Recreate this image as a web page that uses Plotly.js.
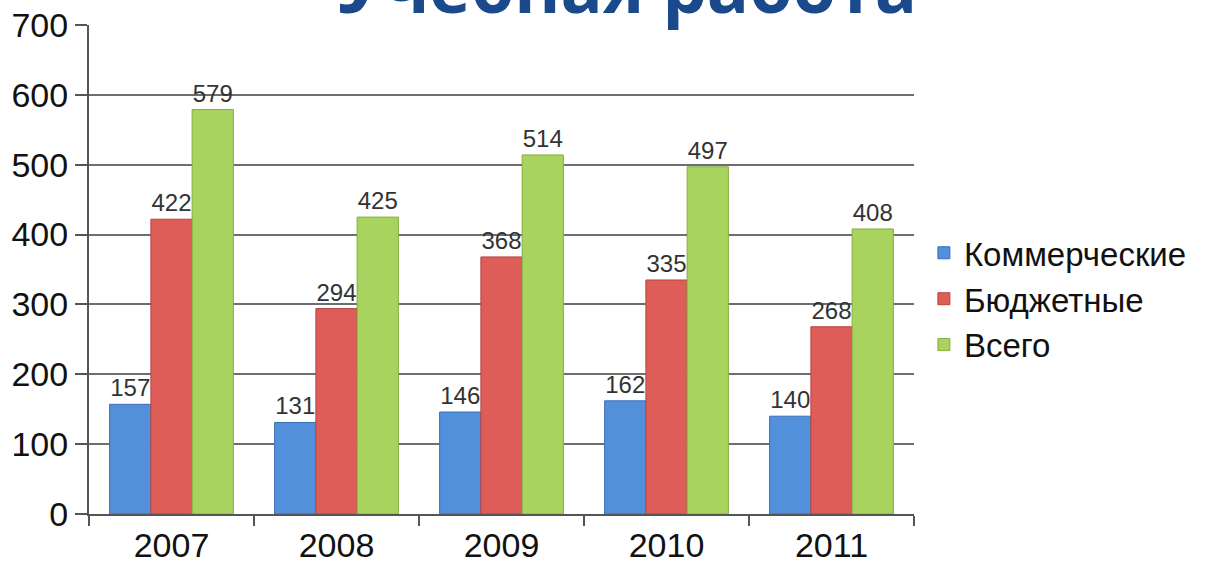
<!DOCTYPE html>
<html>
<head>
<meta charset="utf-8">
<script src="https://cdn.plot.ly/plotly-3.0.1.min.js"></script>
<style>html,body{margin:0;padding:0;background:#fff;}#chart{width:1222px;height:563px;}</style>
</head>
<body>
<div id="chart"></div>
<script>
const years = ["2007", "2008", "2009", "2010", "2011"];
const seriesNames = ["Коммерческие", "Бюджетные", "Всего"];
const commercial = [157, 131, 146, 162, 140];
const budget = [422, 294, 368, 335, 268];
const total = [579, 425, 514, 497, 408];
const titleText = "Учебная работа";

const colors = ["#5290dc", "#df5d58", "#a8d35e"];
const lines = ["#3a6db5", "#b84440", "#86ad3f"];
const values = [commercial, budget, total];

const traces = values.map((v, i) => ({
  type: "bar",
  name: seriesNames[i],
  x: years,
  y: v,
  text: v.map(String),
  textposition: "outside",
  constraintext: "none",
  cliponaxis: false,
  textfont: {family: "Liberation Sans, Arial, sans-serif", size: 24, color: "#333"},
  marker: {color: colors[i], line: {color: lines[i], width: 1}}
}));

const layout = {
  width: 1222, height: 563,
  margin: {l: 89, r: 308, t: 25, b: 49},
  paper_bgcolor: "#fff", plot_bgcolor: "#fff",
  barmode: "group", bargap: 0.25, bargroupgap: 0,
  font: {family: "Liberation Sans, Arial, sans-serif", color: "#111"},
  xaxis: {
    type: "category",
    showline: true, linecolor: "#555", linewidth: 2,
    ticks: "outside", tickson: "boundaries", ticklen: 10, tickwidth: 2, tickcolor: "#555",
    tickfont: {size: 34, color: "#111"},
    showgrid: false
  },
  yaxis: {
    range: [0, 700], dtick: 100,
    showline: true, linecolor: "#555", linewidth: 2,
    ticks: "outside", ticklen: 12, tickwidth: 2, tickcolor: "#555",
    tickfont: {size: 34, color: "#111"},
    showgrid: true, gridcolor: "#6e6e6e", gridwidth: 2,
    zeroline: false
  },
  legend: {
    x: 1.012, y: 0.44, xanchor: "left", yanchor: "middle",
    font: {size: 33, color: "#111"},
    itemwidth: 30, tracegroupgap: 0
  },
  annotations: [{
    text: "<b>" + titleText + "</b>",
    xref: "paper", yref: "paper",
    x: (627 - 89) / 825, y: 1.08,
    xanchor: "center", yanchor: "middle",
    showarrow: false,
    font: {family: "Open Sans, sans-serif", size: 70, color: "#1a4a8c"}
  }]
};

Plotly.newPlot("chart", traces, layout, {displayModeBar: false});
</script>
</body>
</html>
